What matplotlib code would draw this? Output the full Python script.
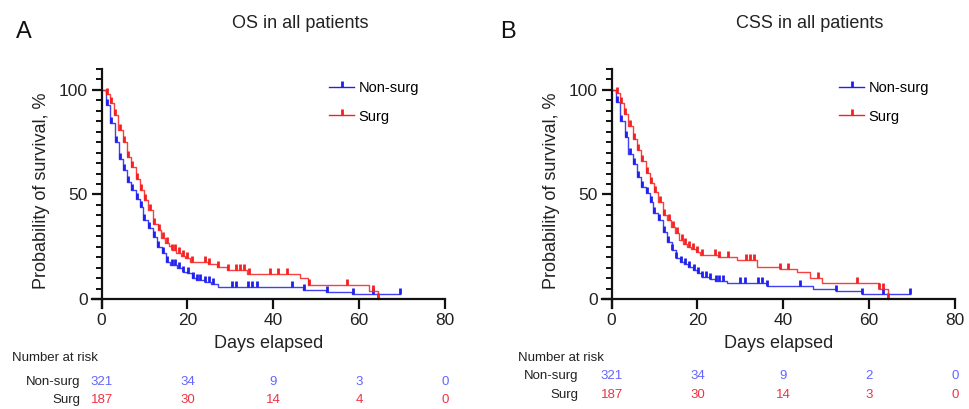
import numpy as np
import matplotlib
matplotlib.use("Agg")
import matplotlib.pyplot as plt
from matplotlib.lines import Line2D

plt.rcParams['font.family'] = ['Liberation Sans', 'DejaVu Sans']

# ---------------- data ----------------
groups = ["Non-surg", "Surg"]
risk_times = [0, 20, 40, 60, 80]

# Panel A: OS
os_nonsurg_t = [0, 0.9, 1.9, 3.0, 4.0, 4.9, 5.8, 6.8, 7.9, 8.9, 9.7, 10.9, 11.9, 13.0, 14.0, 15.0,
                15.9, 17.6, 18.9, 20.0, 21.0, 22.0, 24.0, 25.6, 27.0, 47.0, 52.3, 58.3, 69.5]
os_nonsurg_s = [100, 92.8, 84, 75.3, 67, 61.7, 56, 52, 48, 44, 37.8, 33.8, 29.8, 25, 21.8, 17.9,
                16.3, 14.7, 13, 12.3, 9.9, 9.1, 8, 7.2, 5.7, 4.1, 3.1, 2.3, 2.3]
os_nonsurg_cens = [1.2, 2.2, 3.3, 4.3, 5.2, 6.1, 7.1, 8.2, 9.2, 9.9, 11.0, 12.1, 13.2, 14.2, 15.3,
                   16.3, 17.1, 18.1, 19.0, 20.2, 21.2, 22.2, 23.0, 24.2, 25.0, 26.0, 30.3, 31.2,
                   34.2, 35.1, 36.1, 44.3, 47.2, 52.5, 58.5, 63.3, 69.5]
os_surg_t = [0, 0.9, 1.9, 2.9, 3.9, 4.9, 5.8, 6.8, 7.9, 8.9, 9.9, 10.9, 12.0, 13.2, 13.8, 14.8, 15.7,
             16.3, 17.3, 18.4, 19.4, 20.6, 24.9, 26.8, 29.1, 33.8, 46.2, 48.2, 62.3, 64.3]
os_surg_s = [100, 98, 93.6, 88, 80.9, 75.3, 68, 63, 57.4, 52, 47.4, 42.6, 35.9, 33, 29, 27, 25.5,
             23.4, 21.8, 20.7, 19.5, 17.9, 16.7, 15.5, 13.9, 12.0, 9.8, 6.8, 4.0, 0]
os_surg_cens = [1.2, 2.2, 3.2, 4.2, 5.2, 6.1, 7.1, 8.2, 9.2, 10.2, 11.2, 12.3, 13.4, 14.2, 15.3,
                16.5, 17.1, 18.1, 19.0, 20.0, 21.0, 24.1, 25.0, 27.2, 29.4, 31.2, 32.2, 33.2,
                34.3, 39.2, 41.2, 43.3, 48.3, 57.3, 63.3, 64.4]
os_risk_nonsurg = [321, 34, 9, 3, 0]
os_risk_surg = [187, 30, 14, 4, 0]

# Panel B: CSS
css_nonsurg_t = [0, 0.9, 1.9, 3.0, 3.9, 4.9, 5.8, 6.8, 7.9, 8.9, 9.7, 10.9, 11.9, 13.0, 14.0, 15.0,
                 15.9, 16.9, 17.9, 19.0, 20.0, 21.0, 23.0, 24.2, 26.8, 36.1, 47.0, 52.3, 58.3, 69.5]
css_nonsurg_s = [100, 94, 85.3, 77.4, 69.4, 64.4, 58.5, 53.4, 50.6, 46.6, 41, 37.8, 32.2, 27.4,
                 23.4, 19.5, 17.9, 16.6, 15.5, 13.9, 12.3, 10.7, 9.4, 8.6, 7.6, 6.1, 4.8, 3.6, 2.6, 2.6]
css_nonsurg_cens = [1.2, 2.2, 3.3, 4.2, 5.2, 6.1, 7.1, 8.2, 9.2, 9.9, 11.0, 12.1, 13.2, 14.0, 15.1,
                    16.2, 17.1, 18.0, 19.2, 20.1, 21.1, 22.1, 23.0, 24.3, 25.0, 26.0, 30.0, 31.0,
                    34.2, 35.1, 36.1, 43.9, 52.3, 58.3, 63.3, 69.5]
css_surg_t = [0, 0.9, 1.9, 2.9, 3.9, 4.9, 5.8, 6.8, 7.9, 8.9, 9.9, 10.9, 11.9, 13.0, 13.8, 14.8,
              15.7, 16.7, 17.6, 18.6, 19.7, 20.7, 24.9, 29.1, 33.8, 39.2, 43.1, 46.2, 49.0, 62.2, 64.3]
css_surg_s = [100, 98.4, 93.6, 88.4, 82.8, 76.4, 71.3, 66, 60.4, 55.3, 51, 46.6, 40.2, 38, 34.6,
              31.4, 28.2, 26.2, 25, 23.8, 22.6, 21, 20.3, 18.6, 15.5, 14.2, 12.8, 10.0, 7.8, 5.0, 0]
css_surg_cens = [1.2, 2.2, 3.2, 4.2, 5.2, 6.1, 7.1, 8.2, 9.2, 10.2, 11.2, 12.3, 13.4, 14.2, 15.3,
                 16.3, 17.1, 18.1, 19.0, 20.0, 21.0, 24.1, 25.0, 27.2, 31.2, 32.2, 33.2, 39.2,
                 41.2, 48.2, 57.1, 62.2, 63.3, 64.4]
css_risk_nonsurg = [321, 34, 9, 2, 0]
css_risk_surg = [187, 30, 14, 3, 0]

# ---------------- style ----------------
BLUE = '#2020f0'
RED = '#f52020'
BLUE_TXT = '#6464ff'
RED_TXT = '#ee3344'

fig = plt.figure(figsize=(9.7, 4.09), dpi=100)

XMIN, XMAX = -2.3, 80
YMIN, YMAX = -4.5, 110


def step_value(t, s, c):
    t = np.asarray(t)
    idx = np.searchsorted(t, c, side='right') - 1
    return np.asarray(s)[idx]


def km(ax, t, s, cens, color):
    ax.step(t, s, where='post', color=color, lw=1.0, alpha=0.85)
    cy = [step_value(t, s, c) for c in cens]
    ax.plot(cens, cy, ls='none', marker=2, ms=4.5, mew=2.0, color=color)


def panel(left, letter, title, curves, risks, risk_label_x, letter_x, title_x, risk_row_y):
    ax = fig.add_axes([left, 0.246, 0.364, 0.5853])
    for (t, s, c, col) in curves:
        km(ax, t, s, c, col)
    ax.set_xlim(XMIN, XMAX)
    ax.set_ylim(YMIN, YMAX)
    ax.spines['left'].set_position(('data', 0))
    ax.spines['bottom'].set_position(('data', 0))
    for sp in ['top', 'right']:
        ax.spines[sp].set_visible(False)
    for sp in ['left', 'bottom']:
        ax.spines[sp].set_linewidth(1.6)
        ax.spines[sp].set_color('#111111')
    ax.set_xticks([0, 20, 40, 60, 80])
    ax.set_yticks([0, 50, 100])
    ax.set_yticks(np.arange(0, 111, 5), minor=True)
    ax.tick_params(axis='both', which='major', direction='out', length=7, width=1.6,
                   labelsize=12.5, color='#111111', labelcolor='#222222', pad=3)
    ax.tick_params(axis='y', which='minor', direction='out', length=4, width=1.4, color='#111111')
    ax.set_xlabel('Days elapsed', fontsize=13, color='#222222', labelpad=5)
    ax.set_ylabel('Probability of survival, %', fontsize=13, color='#222222')
    ax.yaxis.set_label_coords(-0.117, 0.49)

    handles = [Line2D([], [], color=BLUE, lw=1.0, marker=2, ms=4.5, mew=2.0),
               Line2D([], [], color=RED, lw=1.0, marker=2, ms=4.5, mew=2.0)]
    ax.legend(handles, groups, loc='upper left', bbox_to_anchor=(0.635, 1.005), frameon=False,
              fontsize=10.5, handlelength=1.7, handletextpad=0.3, labelspacing=1.0,
              numpoints=1)

    fig.text(letter_x, 1 - 32 / 409, letter, fontsize=17, color='#111111', va='center', ha='left')
    fig.text(title_x, 1 - 23 / 409, title, fontsize=13, color='#222222', va='center', ha='center')

    # number at risk table
    fig.text(risk_label_x[0], 1 - 358 / 409, 'Number at risk', fontsize=9.5, color='#222222',
             va='center', ha='left')
    rows = [(groups[0], risks[0], BLUE_TXT, risk_row_y[0]), (groups[1], risks[1], RED_TXT, risk_row_y[1])]
    for name, vals, col, ypix in rows:
        fig.text(risk_label_x[1], 1 - ypix / 409, name, fontsize=9.5, color='#222222',
                 va='center', ha='right')
        for tt, v in zip(risk_times, vals):
            xf = ax.transData.transform((tt, 0))[0] / fig.bbox.width
            fig.text(xf, 1 - ypix / 409, str(v), fontsize=9.5, color=col, va='center', ha='center')
    return ax


panel(91.8 / 970, 'A', 'OS in all patients',
      [(os_nonsurg_t, os_nonsurg_s, os_nonsurg_cens, BLUE),
       (os_surg_t, os_surg_s, os_surg_cens, RED)],
      (os_risk_nonsurg, os_risk_surg), (12 / 970, 80 / 970), 16 / 970, 300 / 970, (382, 400))

panel(601.8 / 970, 'B', 'CSS in all patients',
      [(css_nonsurg_t, css_nonsurg_s, css_nonsurg_cens, BLUE),
       (css_surg_t, css_surg_s, css_surg_cens, RED)],
      (css_risk_nonsurg, css_risk_surg), (518 / 970, 578 / 970), 500 / 970, 810 / 970, (376, 395))

fig.savefig('out.png', dpi=100)
